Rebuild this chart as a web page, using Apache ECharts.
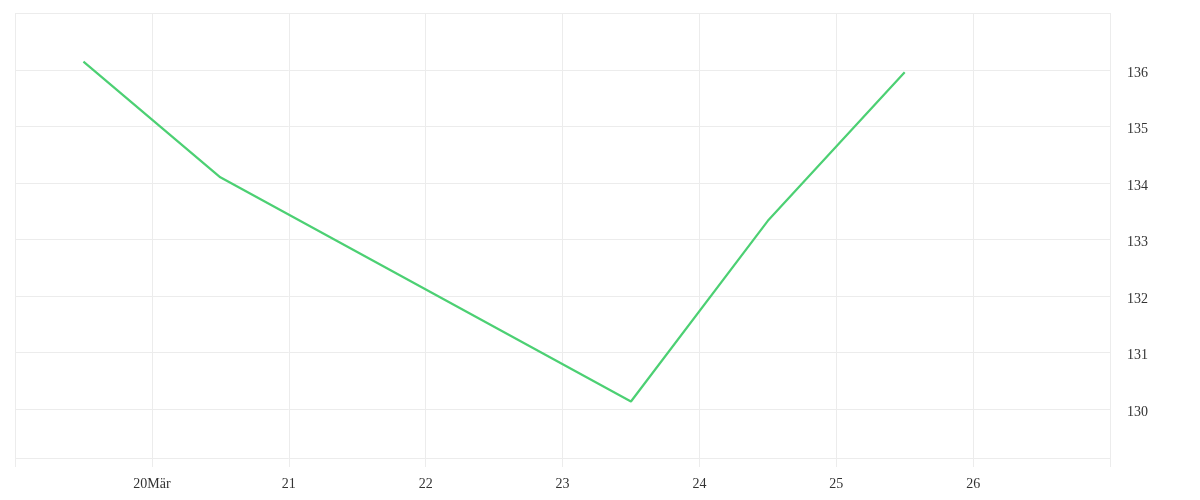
<!DOCTYPE html>
<html>
<head>
<meta charset="utf-8">
<script src="https://cdn.jsdelivr.net/npm/echarts@6/dist/echarts.min.js"></script>
<style>
html,body{margin:0;padding:0;background:#fff;}
#chart{width:1200px;height:500px;}
</style>
</head>
<body>
<div id="chart"></div>
<script>
// Data (dates in March 2020, noon readings)
const dates = ["2020-03-19T12:00", "2020-03-20T12:00", "2020-03-23T12:00", "2020-03-24T12:00", "2020-03-25T12:00"];
const values = [136.15, 134.10, 130.13, 133.33, 135.96];
const tickDays = [20, 21, 22, 23, 24, 25, 26];
const tickLabels = ["20Mär", "21", "22", "23", "24", "25", "26"];
const yTickValues = [130, 131, 132, 133, 134, 135, 136];

const monthStart = Date.parse("2020-03-01T00:00");
const dayOf = d => (Date.parse(d) - monthStart) / 86400000 + 1;
const seriesData = dates.map((d, i) => [dayOf(d), values[i]]);

const chart = echarts.init(document.getElementById('chart'), null, {renderer: 'canvas'});
const gridColor = '#ececec';
const font = 'Liberation Serif';
chart.setOption({
  animation: false,
  backgroundColor: '#fff',
  grid: {left: 15, right: 90, top: 13, bottom: 42, containLabel: false},
  xAxis: {
    type: 'value',
    min: 19, max: 27, interval: 1,
    axisLine: {show: false},
    axisTick: {show: true, length: 9, lineStyle: {color: gridColor}},
    splitLine: {show: true, lineStyle: {color: gridColor, width: 1}},
    axisLabel: {
      margin: 19,
      color: '#333',
      fontFamily: font,
      fontSize: 14,
      formatter: v => {
        const i = tickDays.indexOf(Math.round(v));
        return (i >= 0 && Math.abs(v - tickDays[i]) < 1e-6) ? tickLabels[i] : '';
      }
    }
  },
  yAxis: {
    type: 'value',
    position: 'right',
    min: 129.13, max: 137.01, splitNumber: 8,
    axisLine: {show: false},
    axisTick: {show: false},
    splitLine: {show: true, lineStyle: {color: gridColor, width: 1}},
    axisLabel: {
      margin: 17,
      color: '#333',
      fontFamily: font,
      fontSize: 14,
      verticalAlign: 'top',
      padding: [-4, 0, 0, 0],
      formatter: v => {
        const r = Math.round(v);
        return (Math.abs(v - r) < 1e-6 && yTickValues.indexOf(r) >= 0) ? String(r) : '';
      }
    }
  },
  series: [{
    type: 'line',
    data: seriesData,
    showSymbol: false,
    symbol: 'none',
    lineStyle: {color: '#4cd073', width: 2.2},
    itemStyle: {color: '#4cd073'}
  }]
});
</script>
</body>
</html>
